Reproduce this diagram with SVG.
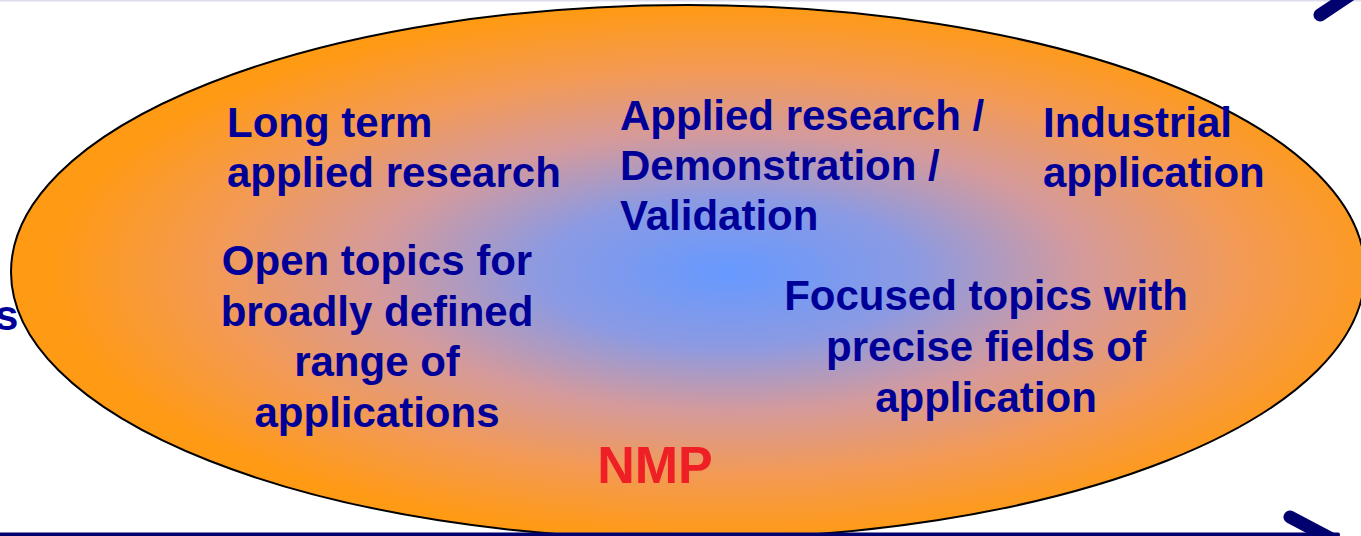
<svg xmlns="http://www.w3.org/2000/svg" width="1361" height="536" viewBox="0 0 1361 536">
<style>
.t{font-family:"Liberation Sans",Arial,sans-serif;font-weight:bold;font-size:42px;fill:#000099}
.c{text-anchor:middle}
.nmp{font-family:"Liberation Sans",Arial,sans-serif;font-weight:bold;font-size:52px;fill:#EE2026;text-anchor:middle}
.arr{stroke:#00006E;fill:none;stroke-linecap:round}
</style>
<defs>
<radialGradient id="g" cx="0.53" cy="0.5" r="0.5" fx="0.53" fy="0.5">
<stop offset="0" stop-color="#6699FF"/>
<stop offset="0.28" stop-color="#8C9AE2"/>
<stop offset="0.52" stop-color="#D49A9C"/>
<stop offset="0.76" stop-color="#F39A55"/>
<stop offset="1" stop-color="#FF9A14"/>
</radialGradient>
</defs>
<rect width="1361" height="536" fill="#FFFFFF"/>
<line x1="0" y1="0.5" x2="1361" y2="0.5" stroke="#DEDDEE" stroke-width="2"/>
<g id="ellipse">
<ellipse cx="688" cy="272" rx="677" ry="267" fill="url(#g)" stroke="#000000" stroke-width="2"/>
</g>
<g id="connectors">
<line class="arr" x1="-10" y1="534.5" x2="1338" y2="534.5" stroke-width="4" stroke-linecap="butt"/>
<line class="arr" x1="1290" y1="517" x2="1345" y2="546" stroke-width="13"/>
<line class="arr" x1="1320" y1="15" x2="1368" y2="-17" stroke-width="13"/>
</g>
<g id="s-label"><text class="t" x="-5" y="330">s</text></g>
<g id="long-term">
<text class="t" x="227" y="137">Long term</text>
<text class="t" x="227" y="187">applied research</text>
</g>
<g id="applied-research">
<text class="t" x="620" y="130">Applied research /</text>
<text class="t" x="620" y="180">Demonstration /</text>
<text class="t" x="620" y="230">Validation</text>
</g>
<g id="industrial">
<text class="t" x="1043" y="137">Industrial</text>
<text class="t" x="1043" y="187">application</text>
</g>
<g id="open-topics">
<text class="t c" x="377" y="275">Open topics for</text>
<text class="t c" x="377" y="326">broadly defined</text>
<text class="t c" x="377" y="376">range of</text>
<text class="t c" x="377" y="427">applications</text>
</g>
<g id="focused-topics">
<text class="t c" x="986" y="310">Focused topics with</text>
<text class="t c" x="986" y="361">precise fields of</text>
<text class="t c" x="986" y="412">application</text>
</g>
<g id="nmp"><text class="nmp" x="655" y="483">NMP</text></g>
</svg>
